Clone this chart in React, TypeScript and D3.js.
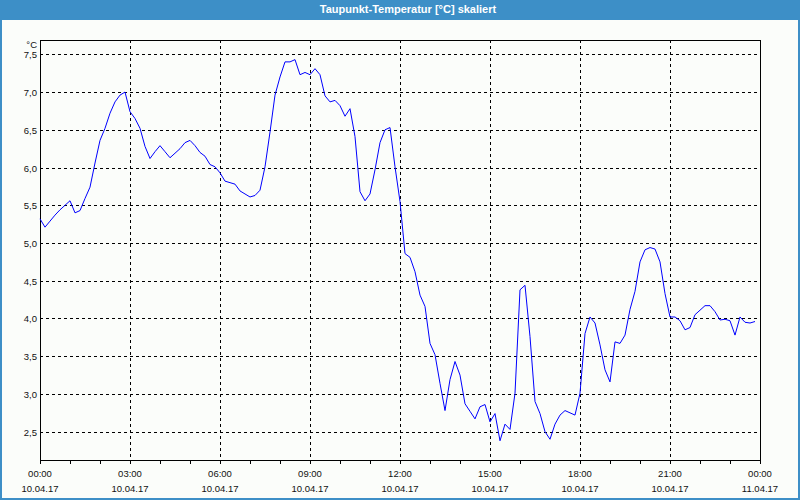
import * as d3 from "d3";

// Dew point, 10.04.17 00:00 onward, one reading every 10 minutes
const STEP_MIN = 10;
const values = [
  5.32, 5.21, 5.29, 5.37, 5.44, 5.5, 5.56, 5.4, 5.43, 5.59, 5.74, 6.06,
  6.36, 6.52, 6.72, 6.87, 6.96, 7.0, 6.74, 6.65, 6.52, 6.28, 6.12, 6.21,
  6.29, 6.21, 6.13, 6.19, 6.25, 6.33, 6.36, 6.29, 6.2, 6.15, 6.04, 6.01,
  5.93, 5.82, 5.8, 5.78, 5.69, 5.65, 5.61, 5.63, 5.7, 6.01, 6.47, 6.96,
  7.2, 7.4, 7.4, 7.43, 7.23, 7.26, 7.23, 7.31, 7.23, 6.95, 6.87, 6.89,
  6.82, 6.68, 6.78, 6.41, 5.68, 5.56, 5.65, 5.97, 6.33, 6.5, 6.53, 6.01,
  5.55, 4.86, 4.81, 4.62, 4.31, 4.16, 3.67, 3.52, 3.14, 2.78, 3.19, 3.43,
  3.25, 2.87, 2.77, 2.67, 2.83, 2.86, 2.63, 2.74, 2.38, 2.6, 2.53, 3.01,
  4.38, 4.44, 3.76, 2.9, 2.74, 2.5, 2.4, 2.6, 2.72, 2.78, 2.75, 2.72,
  3.01, 3.8, 4.02, 3.94, 3.65, 3.32, 3.16, 3.69, 3.67, 3.78, 4.12, 4.36,
  4.75, 4.91, 4.94, 4.92, 4.75, 4.33, 4.02, 4.02, 3.97, 3.85, 3.88, 4.05,
  4.11, 4.17, 4.17, 4.09, 3.98, 3.99, 3.97, 3.78, 4.02, 3.95, 3.94, 3.96,
];

const yTicks = [2.5, 3.0, 3.5, 4.0, 4.5, 5.0, 5.5, 6.0, 6.5, 7.0, 7.5];
const xTimeLabels = ["00:00", "03:00", "06:00", "09:00", "12:00", "15:00", "18:00", "21:00", "00:00"];
const xDateLabels = ["10.04.17", "10.04.17", "10.04.17", "10.04.17", "10.04.17", "10.04.17", "10.04.17", "10.04.17", "11.04.17"];

const W = 800;
const H = 500;
const L = 40, R = 760, T = 40, B = 460;
const FONT = "'Liberation Sans', Arial, sans-serif";

export default function App() {
  const x = d3.scaleLinear().domain([0, 1440]).range([L, R]);
  const y = d3.scaleLinear().domain([2.125, 7.69]).range([B, T]);

  const line = d3
    .line<number>()
    .x((_, i) => x(i * STEP_MIN))
    .y((d) => y(d));

  const hourTicks = d3.range(0, 1441, 60);
  const majorTicks = d3.range(0, 1441, 180);

  return (
    <div style={{ position: "fixed", left: 0, top: 0 }}>
      <svg width={W} height={H} style={{ display: "block" }}>
        <rect x={0} y={0} width={W} height={H} fill="#fbfdfa" />
        <rect x={0} y={0} width={W} height={20} fill="#3d8fc7" />
        <rect x={1} y={1} width={W - 2} height={H - 2} fill="none" stroke="#3d8fc7" strokeWidth={2} />
        <text x={408} y={13} textAnchor="middle" fill="#fff" fontFamily={FONT} fontSize={11} fontWeight="bold">
          Taupunkt-Temperatur [°C] skaliert
        </text>

        {/* grid */}
        <g stroke="#000" strokeWidth={1} strokeDasharray="3,3" shapeRendering="crispEdges">
          {yTicks.map((t) => (
            <line key={"gy" + t} x1={L} x2={R} y1={Math.round(y(t)) + 0.5} y2={Math.round(y(t)) + 0.5} />
          ))}
          {majorTicks.slice(1, -1).map((m) => (
            <line key={"gx" + m} x1={Math.round(x(m)) + 0.5} x2={Math.round(x(m)) + 0.5} y1={T} y2={B} />
          ))}
        </g>

        {/* frame */}
        <rect x={L + 0.5} y={T + 0.5} width={R - L} height={B - T} fill="none" stroke="#000" strokeWidth={1} shapeRendering="crispEdges" />

        {/* hour ticks */}
        <g stroke="#000" strokeWidth={1} shapeRendering="crispEdges">
          {hourTicks.map((m) => (
            <line key={"t" + m} x1={Math.round(x(m)) + 0.5} x2={Math.round(x(m)) + 0.5} y1={B} y2={B + 4} />
          ))}
        </g>

        {/* y labels */}
        <g fontFamily={FONT} fontSize={9.5} fill="#111" textAnchor="end">
          <text x={37} y={48}>°C</text>
          {yTicks.map((t) => (
            <text key={"yl" + t} x={37} y={Math.round(y(t)) + 4}>
              {t.toFixed(1).replace(".", ",")}
            </text>
          ))}
        </g>

        {/* x labels */}
        <g fontFamily={FONT} fontSize={9.5} fill="#111" textAnchor="middle">
          {majorTicks.map((m, i) => (
            <g key={"xl" + m}>
              <text x={x(m)} y={477}>{xTimeLabels[i]}</text>
              <text x={x(m)} y={492}>{xDateLabels[i]}</text>
            </g>
          ))}
        </g>

        <path d={line(values) ?? ""} fill="none" stroke="#0000ff" strokeWidth={1} />
      </svg>
    </div>
  );
}
